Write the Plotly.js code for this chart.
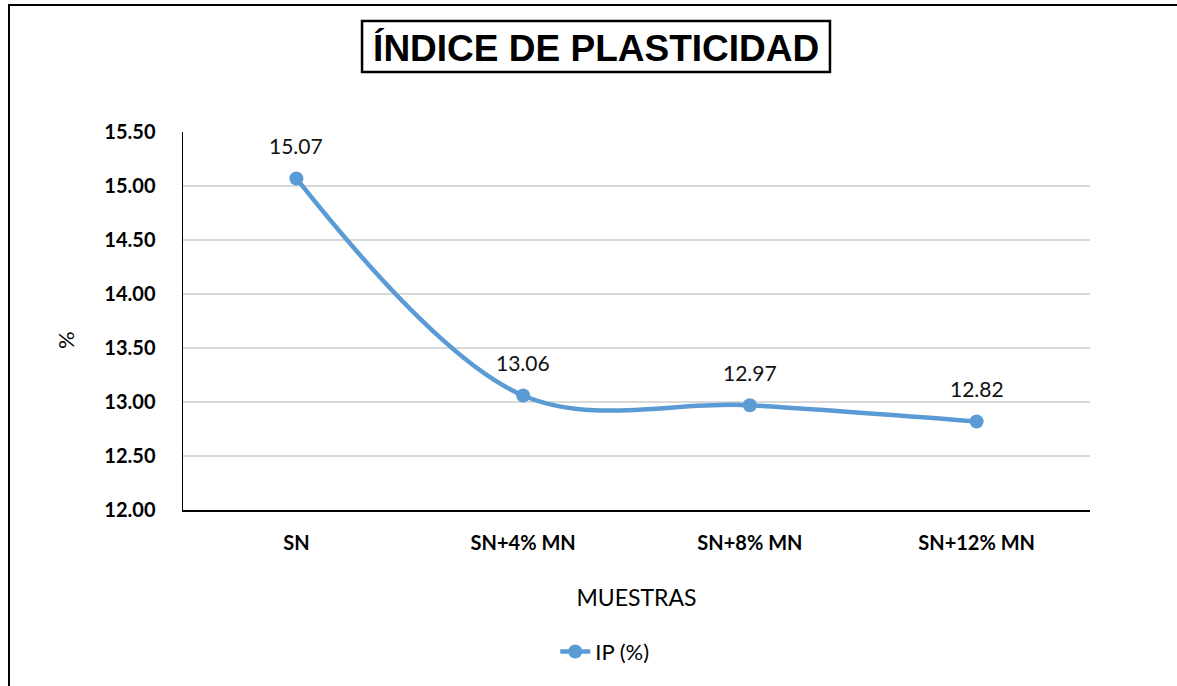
<!DOCTYPE html>
<html>
<head>
<meta charset="utf-8">
<script src="https://cdn.plot.ly/plotly-3.0.1.min.js"></script>
<style>
  html, body { margin: 0; padding: 0; background: #fff; overflow: hidden; }
  #wrap { position: relative; width: 1177px; height: 686px; overflow: hidden; }
  #chart { width: 1177px; height: 686px; }
  #frame { position: absolute; left: 8px; top: 4px; width: 1400px; height: 900px;
           border-left: 2.5px solid #000; border-top: 2.5px solid #000; pointer-events: none; }
</style>
</head>
<body>
<div id="wrap">
<div id="chart"></div>
<div id="frame"></div>
</div>
<script>
const categories = ["SN", "SN+4% MN", "SN+8% MN", "SN+12% MN"];
const ipValues = [15.07, 13.06, 12.97, 12.82];
const seriesName = "IP (%)";
const yTickValues = [12.0, 12.5, 13.0, 13.5, 14.0, 14.5, 15.0, 15.5];
const yTickLabels = ["12.00", "12.50", "13.00", "13.50", "14.00", "14.50", "15.00", "15.50"];
const xTitle = "MUESTRAS";
const yTitle = "%";

const baseFamily = "Lato, 'Open Sans', sans-serif";
const tickFont = { family: baseFamily, size: 20, color: "#000", weight: "bold" };

const trace = {
  type: "scatter",
  mode: "lines+markers",
  x: categories,
  y: ipValues,
  name: seriesName,
  line: { color: "#5b9bd5", width: 4.5, shape: "spline", smoothing: 1 },
  marker: { color: "#5b9bd5", size: 14 },
  cliponaxis: false
};

const annotations = categories.map((c, i) => ({
  x: c, y: ipValues[i], xref: "x", yref: "y",
  text: ipValues[i].toFixed(2), showarrow: false, yshift: 33,
  font: { family: baseFamily, size: 21, color: "#111" }
}));
annotations.push({
  x: -0.130, y: 0.4497, xref: "paper", yref: "paper",
  xanchor: "center", yanchor: "middle",
  text: yTitle, textangle: -90, showarrow: false,
  font: { family: baseFamily, size: 22, color: "#000" }
});

const layout = {
  width: 1177, height: 686,
  margin: { l: 183, r: 87, t: 132, b: 176 },
  paper_bgcolor: "#fff", plot_bgcolor: "#fff",
  showlegend: true,
  title: {
    text: "ÍNDICE DE PLASTICIDAD",
    font: { family: "'Liberation Sans', Arial, sans-serif", size: 37, color: "#000", weight: "bold" },
    x: 0.5065, xanchor: "center", xref: "container",
    y: 0.930, yanchor: "middle", yref: "container"
  },
  xaxis: {
    type: "category",
    range: [-0.5, 3.5],
    showgrid: false,
    showline: true, linecolor: "#000", linewidth: 1.5,
    ticks: "",
    tickfont: tickFont,
    ticklabelstandoff: 14,
    title: { text: xTitle, font: { family: baseFamily, size: 23, color: "#000" }, standoff: 37 },
    fixedrange: true
  },
  yaxis: {
    range: [12, 15.5],
    tickvals: yTickValues,
    ticktext: yTickLabels,
    showgrid: true, gridcolor: "#d9d9d9", gridwidth: 1.5,
    showline: true, linecolor: "#000", linewidth: 1.5,
    zeroline: false,
    ticks: "",
    tickfont: tickFont,
    ticklabelstandoff: 22,
    fixedrange: true
  },
  legend: {
    orientation: "h",
    x: 0.465, xanchor: "center",
    y: -0.375, yanchor: "middle",
    font: { family: baseFamily, size: 22, color: "#000" },
    bgcolor: "rgba(0,0,0,0)"
  },
  annotations: annotations,
  shapes: [
    { type: "rect", xref: "paper", yref: "paper", x0: 0.1974, x1: 0.7133, y0: 1.1587, y1: 1.2937,
      line: { color: "#000", width: 2.5 }, fillcolor: "rgba(0,0,0,0)", layer: "above" }
  ]
};

Plotly.newPlot("chart", [trace], layout, { displayModeBar: false, staticPlot: true });
</script>
</body>
</html>
